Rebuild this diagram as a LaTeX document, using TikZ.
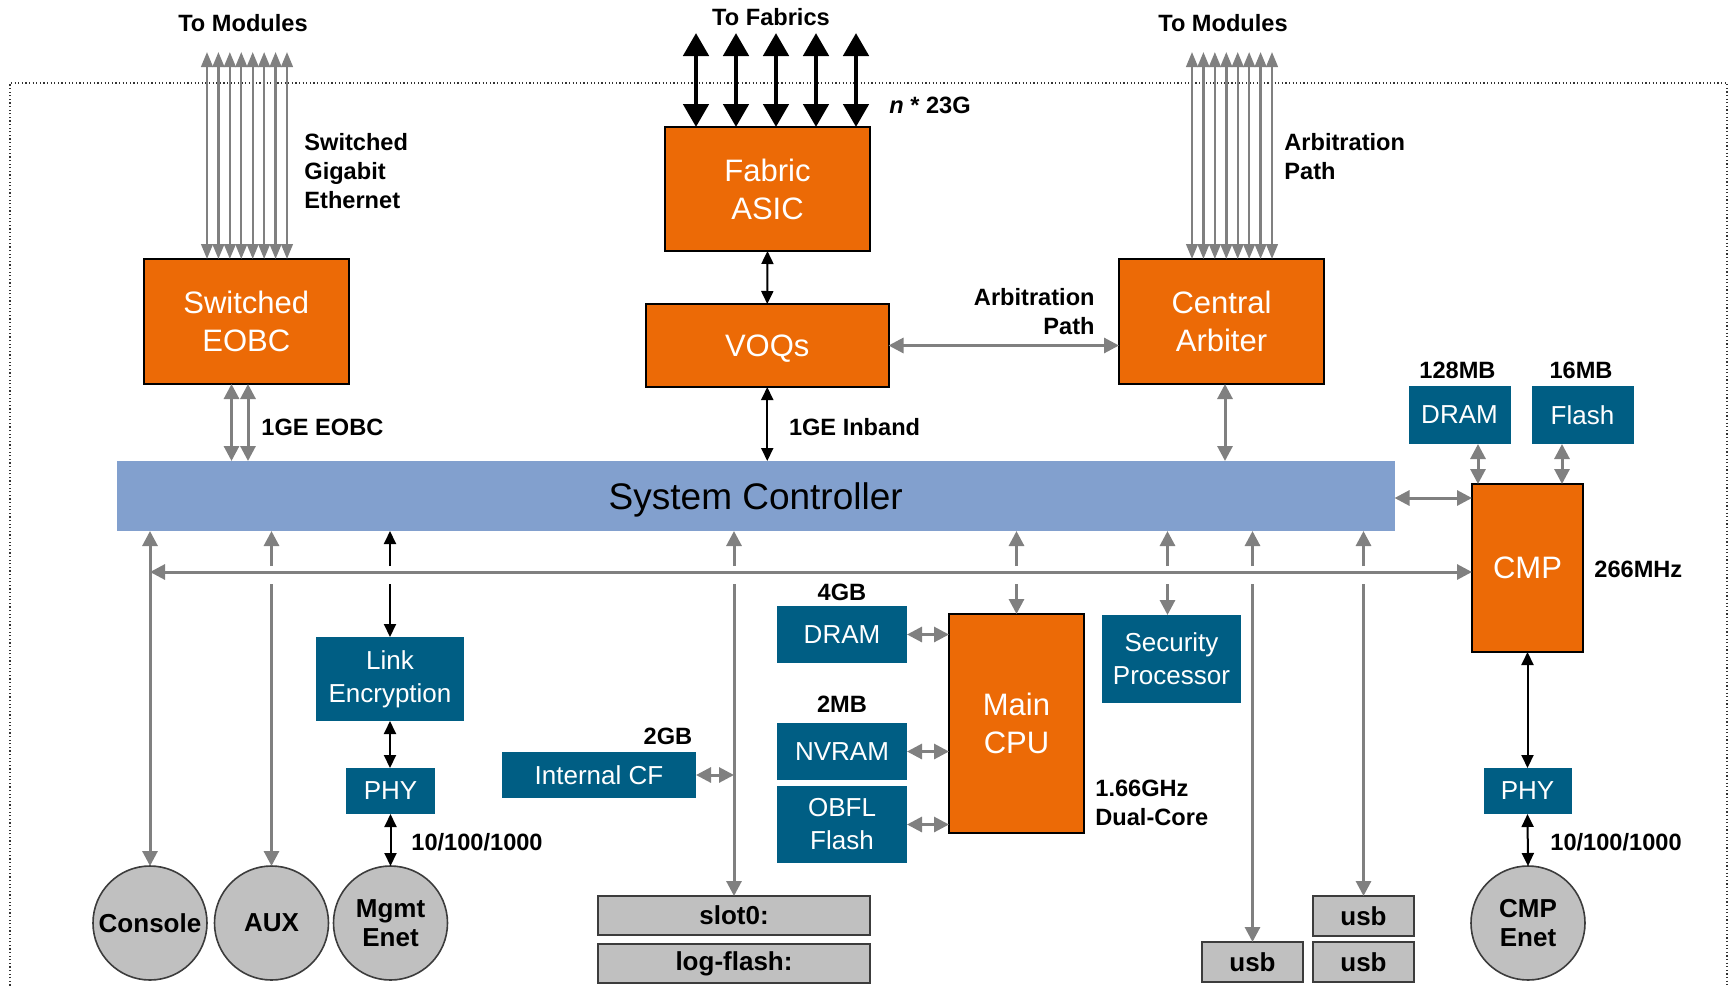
\documentclass[tikz,border=0pt]{standalone}
\usepackage{fontspec}
\setmainfont{Liberation Sans}
\usetikzlibrary{arrows.meta,calc}

\definecolor{corange}{RGB}{236,106,6}
\definecolor{cteal}{RGB}{0,94,132}
\definecolor{cbus}{RGB}{130,160,206}
\definecolor{cgrayfill}{RGB}{192,192,192}
\definecolor{cgrayline}{RGB}{60,60,60}
\definecolor{cgarrow}{RGB}{128,128,128}

\newcommand\lblfont{\fontsize{11.8pt}{14.5pt}\selectfont\bfseries}
\newcommand\orfont{\fontsize{15.5pt}{19pt}\selectfont}
\newcommand\tlfont{\fontsize{13pt}{16.5pt}\selectfont}
\newcommand\gyfont{\fontsize{13pt}{14.5pt}\selectfont\bfseries}
\newcommand\scfont{\fontsize{18.5pt}{22pt}\selectfont}

\tikzset{
  obox/.style={draw=black, line width=1pt, fill=corange, text=white, font=\orfont,
    align=center, inner sep=0pt, outer sep=0pt},
  tbox/.style={fill=cteal, text=white, font=\tlfont, align=center, inner sep=0pt, outer sep=0pt},
  gbox/.style={draw=cgrayline, line width=1pt, fill=cgrayfill, font=\gyfont,
    inner sep=0pt, outer sep=0pt},
  port/.style={circle, draw=cgrayline, line width=0.8pt, fill=cgrayfill, font=\gyfont,
    minimum size=57pt, inner sep=0pt, outer sep=0pt, align=center},
  lbl/.style={font=\lblfont, inner sep=0pt},
  garr/.style={draw=cgarrow, line width=1.5pt,
    {Triangle[length=7.5pt,width=7.5pt]}-{Triangle[length=7.5pt,width=7.5pt]}},
  gup/.style={draw=cgarrow, line width=1.5pt, -{Triangle[length=7.5pt,width=7.5pt]}},
  fanarr/.style={draw=cgarrow, line width=1.2pt,
    {Triangle[length=7.5pt,width=5.8pt]}-{Triangle[length=7.5pt,width=5.8pt]}},
  barr/.style={draw=black, line width=1pt,
    {Triangle[length=6.5pt,width=6pt]}-{Triangle[length=6.5pt,width=6pt]}},
  bup/.style={draw=black, line width=1pt, -{Triangle[length=6.5pt,width=6pt]}},
  fabarr/.style={draw=black, line width=2.4pt,
    {Triangle[length=11.5pt,width=12.5pt]}-{Triangle[length=11.5pt,width=12.5pt]}},
}

\begin{document}
\begin{tikzpicture}[x=0.5pt,y=-0.5pt]
\useasboundingbox (0,0) rectangle (1731,986);

% chassis outline
\draw[black!80, line width=0.6pt, dash pattern=on 0.6pt off 1.2pt]
  (10,1000) -- (10,83) -- (1727,83) -- (1727,1000);

% orange function blocks
\node[obox, minimum width=102.75pt, minimum height=62.5pt] (sweobc) at (246.25,321.5) {Switched\\EOBC};
\node[obox, minimum width=102.5pt, minimum height=62pt] (fabric) at (767.5,189) {Fabric\\ASIC};
\node[obox, minimum width=121.25pt, minimum height=41.5pt, text height=11.1pt, text depth=0pt] (voq) at (767.25,345.5) {VOQs};
\node[obox, minimum width=102.5pt, minimum height=62.5pt] (arbiter) at (1221.5,321.5) {Central\\Arbiter};
\node[obox, minimum width=55.5pt, minimum height=84pt] (cmp) at (1527.5,568) {CMP};
\node[obox, minimum width=67.5pt, minimum height=109.5pt] (cpu) at (1016.5,723.5) {Main\\CPU};

% system controller bar
\node[fill=cbus, font=\scfont, inner sep=0pt, outer sep=0pt, text height=13.3pt, text depth=0pt,
  minimum width=638.75pt, minimum height=35pt] (sc) at (755.75,496) {System Controller};

% teal memory / helper blocks
\node[tbox, minimum width=51pt, minimum height=29pt] (dramc) at (1459.5,415) {DRAM};
\node[tbox, minimum width=51pt, minimum height=29pt] (flashc) at (1582.5,415) {Flash};
\node[tbox, minimum width=74pt, minimum height=42pt] (linkenc) at (390,679) {Link\\Encryption};
\node[tbox, minimum width=44.5pt, minimum height=23pt] (phym) at (390.5,791) {PHY};
\node[tbox, minimum width=97pt, minimum height=23pt] (intcf) at (599,775) {Internal CF};
\node[tbox, minimum width=65pt, minimum height=28.5pt] (dram) at (842,634.5) {DRAM};
\node[tbox, minimum width=65pt, minimum height=28.5pt] (nvram) at (842,751.5) {NVRAM};
\node[tbox, minimum width=65pt, minimum height=38.5pt] (obfl) at (842,824.5) {OBFL\\Flash};
\node[tbox, minimum width=69.5pt, minimum height=44pt] (secproc) at (1171.5,659) {Security\\Processor};
\node[tbox, minimum width=44pt, minimum height=23pt] (phyc) at (1527.5,791) {PHY};

% external ports
\node[port] (console) at (150,923) {Console};
\node[port] (aux) at (271.5,923) {AUX};
\node[port] (mgmt) at (390.5,923) {Mgmt\\Enet};
\node[port] (cmpenet) at (1528,923) {CMP\\Enet};

% removable storage
\node[gbox, minimum width=136pt, minimum height=19.5pt] (slot) at (734,915.5) {slot0:};
\node[gbox, minimum width=136pt, minimum height=19.5pt] (logflash) at (734,963.5) {log-flash:};
\node[gbox, minimum width=50.5pt, minimum height=20pt] (usba) at (1252.5,962) {usb};
\node[gbox, minimum width=50.5pt, minimum height=20pt] (usbb) at (1363.5,916) {usb};
\node[gbox, minimum width=50.5pt, minimum height=20pt] (usbc) at (1363.5,962) {usb};

% text labels
\node[lbl] (tomodl) at (243,23) {To Modules};
\node[lbl] (tofab) at (771,17) {To Fabrics};
\node[lbl] (tomodr) at (1223,23) {To Modules};
\node[lbl, anchor=west, align=left] (sge) at (304,171) {Switched\\Gigabit\\Ethernet};
\node[lbl, anchor=west] (rate) at (889,105) {\itshape n\upshape\ * 23G};
\node[lbl, anchor=east, align=right] (arbp1) at (1095,311.5) {Arbitration\\Path};
\node[lbl, anchor=west, align=left] (arbp2) at (1284,156.5) {Arbitration\\Path};
\node[lbl, anchor=west] (eobc1g) at (261,427) {1GE EOBC};
\node[lbl, anchor=west] (inband) at (788.6,427) {1GE Inband};
\node[lbl] (m128) at (1457.5,370) {128MB};
\node[lbl] (m16) at (1581,370) {16MB};
\node[lbl, anchor=west] (mhz) at (1594,569) {266MHz};
\node[lbl] (g4) at (842,592) {4GB};
\node[lbl] (mb2) at (842,704) {2MB};
\node[lbl] (gb2) at (668,736) {2GB};
\node[lbl, anchor=west, align=left] (ghz) at (1095,802.5) {1.66GHz\\Dual-Core};
\node[lbl, anchor=west] (sp1) at (411,842) {10/100/1000};
\node[lbl, anchor=west] (sp2) at (1550,842) {10/100/1000};

% helper rows
\coordinate (modtop) at (0,52);
\coordinate (fabtop) at (0,33);
\coordinate (busY) at (0,572);
\coordinate (tapU) at (0,566);
\coordinate (tapD) at (0,584);

% module fans
\foreach \dx in {-39.25,-27.82,-16.4,-4.97,6.46,17.89,29.32,40.75}{
  \coordinate (fl) at ($(sweobc.north)+(\dx,0)$);
  \draw[fanarr] (fl) -- (fl |- modtop);
}
\foreach \dx in {-29.5,-18.07,-6.64,4.79,16.21,27.64,39.07,50.5}{
  \coordinate (fr) at ($(arbiter.north)+(\dx,0)$);
  \draw[fanarr] (fr) -- (fr |- modtop);
}

% fabric links
\foreach \dx in {-71.5,-31.5,8.5,48.5,88.5}{
  \coordinate (fb) at ($(fabric.north)+(\dx,0)$);
  \draw[fabarr] (fb) -- (fb |- fabtop);
}

% upper connections
\draw[barr] (fabric.south) -- (voq.north);
\draw[barr] (voq.south) -- (voq.south |- sc.north);
\draw[garr] (voq.east) -- (arbiter.west |- voq.east);
\coordinate (eobcA) at ($(sweobc.south)+(-14.75,0)$);
\coordinate (eobcB) at ($(sweobc.south)+(1.75,0)$);
\coordinate (arbS) at ($(arbiter.south)+(3.5,0)$);
\coordinate (cmpA) at ($(cmp.north west)+(6,0)$);
\coordinate (cmpB) at ($(cmp.north east)+(-21,0)$);
\coordinate (scE) at ($(sc.east)+(0,2)$);
\draw[garr] (eobcA) -- (eobcA |- sc.north);
\draw[garr] (eobcB) -- (eobcB |- sc.north);
\draw[garr] (arbS) -- (arbS |- sc.north);
\draw[garr] (cmpA) -- (cmpA |- dramc.south);
\draw[garr] (cmpB) -- (cmpB |- flashc.south);
\draw[garr] (scE) -- (cmp.west |- scE);

% shared bus
\draw[garr] (cmp.west |- busY) -- (console.north |- busY);
\draw[garr] (console.north) -- (console.north |- sc.south);

% taps from the bus
\coordinate (spN) at ($(secproc.north)+(-4,0)$);
\draw[gup] (aux.north |- tapU) -- (aux.north |- sc.south);
\draw[gup] (aux.north |- tapD) -- (aux.north);
\draw[bup] (linkenc.north |- tapU) -- (linkenc.north |- sc.south);
\draw[bup] (linkenc.north |- tapD) -- (linkenc.north);
\draw[gup] (slot.north |- tapU) -- (slot.north |- sc.south);
\draw[gup] (slot.north |- tapD) -- (slot.north);
\draw[gup] (cpu.north |- tapU) -- (cpu.north |- sc.south);
\draw[gup] (cpu.north |- tapD) -- (cpu.north);
\draw[gup] (spN |- tapU) -- (spN |- sc.south);
\draw[gup] (spN |- tapD) -- (spN);
\draw[gup] (usba.north |- tapU) -- (usba.north |- sc.south);
\draw[gup] (usba.north |- tapD) -- (usba.north);
\draw[gup] (usbb.north |- tapU) -- (usbb.north |- sc.south);
\draw[gup] (usbb.north |- tapD) -- (usbb.north);

% management port chain
\draw[barr] (linkenc.south) -- (phym.north -| linkenc.south);
\draw[barr] (phym.south) -- (mgmt.north);

% main CPU memories
\draw[garr] (dram.east) -- (cpu.west |- dram.east);
\draw[garr] (nvram.east) -- (cpu.west |- nvram.east);
\draw[garr] (obfl.east) -- (cpu.west |- obfl.east);
\draw[garr] (intcf.east) -- (slot.north |- intcf.east);

% CMP port chain
\draw[barr] (cmp.south) -- (phyc.north -| cmp.south);
\draw[barr] (phyc.south) -- (cmpenet.north);
\end{tikzpicture}
\end{document}
